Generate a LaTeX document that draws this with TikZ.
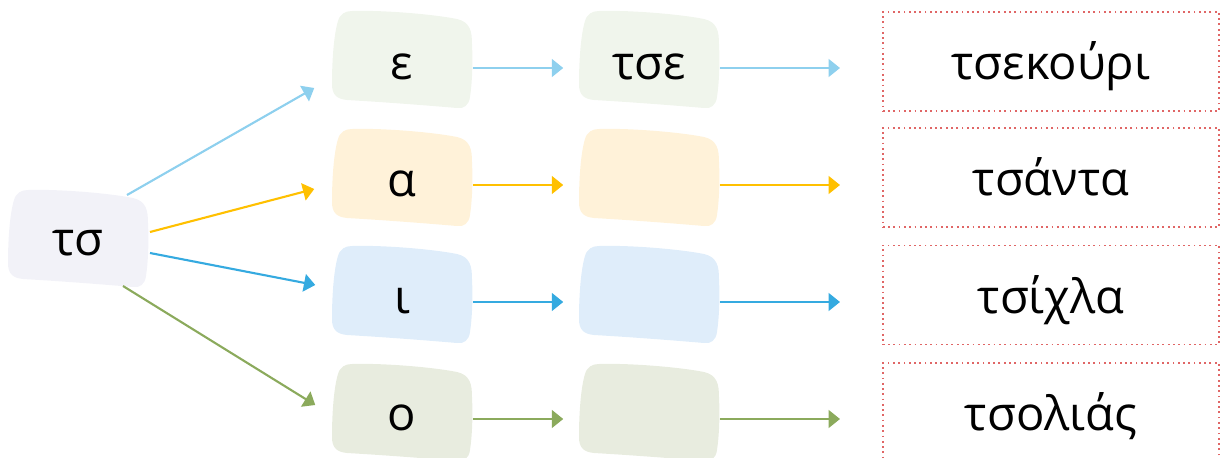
\documentclass[tikz,border=0pt]{standalone}
\usepackage{fontspec}
\setmainfont{Open Sans}
\usetikzlibrary{arrows.meta,calc}
\definecolor{tsfill}{HTML}{F2F2F8}
\definecolor{fillA}{HTML}{F0F5EC}
\definecolor{fillB}{HTML}{FFF2D9}
\definecolor{fillC}{HTML}{DFEDFA}
\definecolor{fillD}{HTML}{E8ECDF}
\definecolor{colA}{HTML}{8ED0EE}
\definecolor{colB}{HTML}{FFC000}
\definecolor{colC}{HTML}{35AAE0}
\definecolor{colD}{HTML}{8BAA5C}
\definecolor{boxred}{HTML}{E06666}
\newcommand{\blobfill}[3]{%
  \begin{scope}[shift={(#1,#2)}]
    \fill[#3] (-50,-48) .. controls (-20,-49) and (30,-45) .. (55,-40)
      .. controls (68,-37) and (70,-28) .. (70,-15)
      .. controls (71,5) and (70,25) .. (68,38)
      .. controls (67,46) and (62,50) .. (55,49)
      .. controls (20,46) and (-20,43) .. (-55,41)
      .. controls (-66,40) and (-70,35) .. (-70,25)
      .. controls (-70,0) and (-68,-25) .. (-64,-38)
      .. controls (-62,-45) and (-57,-48) .. (-50,-48) -- cycle;
  \end{scope}}
\tikzset{
  lbl/.style={anchor=base, inner sep=0pt, text height=6.26pt, text depth=0pt, minimum width=1.4cm},
  wbox/.style={draw=boxred, densely dotted, line width=0.5pt, inner sep=0pt,
    minimum width=3.36cm, minimum height=0.99cm, text height=10.5pt, text depth=0pt},
  arr/.style={line width=0.6pt, -{Triangle[length=3.2pt, width=5pt]}},
  arrowA/.style={arr, draw=colA, fill=colA}, arrowB/.style={arr, draw=colB, fill=colB},
  arrowC/.style={arr, draw=colC, fill=colC}, arrowD/.style={arr, draw=colD, fill=colD},
  short1/.style={shorten >=0.15cm},
  short2/.style={shorten >=0.42cm}
}
\begin{document}
\begin{tikzpicture}[x=0.01cm, y=-0.01cm, font={\fontsize{13.4pt}{16pt}\selectfont}]
\useasboundingbox (0,0) rectangle (1220,457);
% blob backgrounds
\blobfill{78}{238}{tsfill}
\blobfill{402}{59}{fillA}
\blobfill{649}{59}{fillA}
\blobfill{402}{177}{fillB}
\blobfill{649}{177}{fillB}
\blobfill{402}{294}{fillC}
\blobfill{649}{294}{fillC}
\blobfill{402}{412}{fillD}
\blobfill{649}{412}{fillD}
% nodes
\node[lbl] (ts) at (78,255) {τσ};
\node[lbl] (r1a) at (402,79) {ε};
\node[lbl] (r2a) at (402,196) {α};
\node[lbl] (r3a) at (402,313) {ι};
\node[lbl] (r4a) at (402,430) {ο};
\node[lbl] (r1b) at (649,79) {τσε};
\node[lbl] (r2b) at (649,196) {};
\node[lbl] (r3b) at (649,313) {};
\node[lbl] (r4b) at (649,430) {};
\node[wbox] (w1) at (1051,61.5) {τσεκούρι};
\node[wbox] (w2) at (1051,177.5) {τσάντα};
\node[wbox] (w3) at (1051,295) {τσίχλα};
\node[wbox] (w4) at (1051,412.5) {τσολιάς};
% connectors from the left blob
\draw[arrowA] ($(ts.center)+(49,-49)$) -- ($(r1a.west)+(-17,20)$);
\draw[arrowB] ($(ts.center)+(72,-12)$) -- ($(r2a.west)+(-17,4)$);
\draw[arrowC] ($(ts.center)+(72,9)$) -- ($(r3a.west)+(-16,-17)$);
\draw[arrowD] ($(ts.center)+(45,42)$) -- ($(r4a.west)+(-16,-14)$);
% row connectors
\draw[arrowA, short1] (r1a.east) -- (r1b.west);
\draw[arrowB, short1] (r2a.east) -- (r2b.west);
\draw[arrowC, short1] (r3a.east) -- (r3b.west);
\draw[arrowD, short1] (r4a.east) -- (r4b.west);
\draw[arrowA, short2] (r1b.east) -- (r1b.east -| w1.west);
\draw[arrowB, short2] (r2b.east) -- (r2b.east -| w2.west);
\draw[arrowC, short2] (r3b.east) -- (r3b.east -| w3.west);
\draw[arrowD, short2] (r4b.east) -- (r4b.east -| w4.west);
\end{tikzpicture}
\end{document}
